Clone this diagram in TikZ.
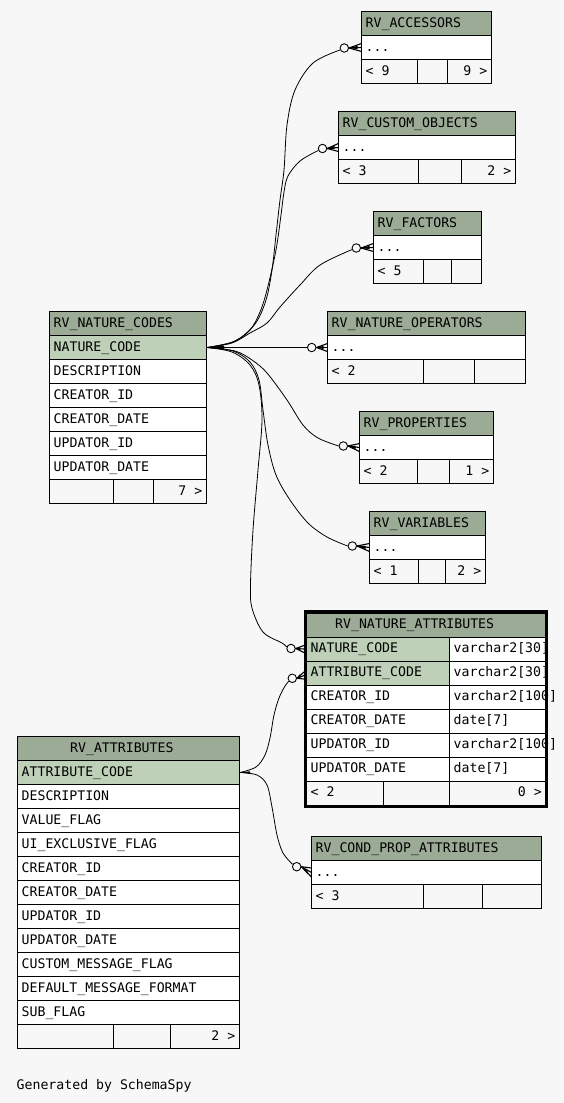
\documentclass[tikz,border=0pt]{standalone}
\usepackage{fontspec}
\setmonofont{DejaVu Sans Mono}
\definecolor{bgcol}{HTML}{F7F7F7}
\definecolor{hdrcol}{HTML}{9BAB96}
\definecolor{pkcol}{HTML}{BED1B8}
\newcommand\tabfont{\ttfamily\fontsize{13.2}{15}\selectfont}
\newcommand\Row[5]{% style, x1, x2, ytop, name, text
  \draw[#1] (#2,#4) rectangle (#3,#4+24);
  \node[txt] (#5) at (#2+4,#4+15.5) }
\newcommand\RowT[8]{% style, x1, xm, x2, ytop, name, text, type
  \draw[#1] (#2,#5) rectangle (#3,#5+24);
  \draw[plain] (#3,#5) rectangle (#4,#5+24);
  \node[txt] (#6) at (#2+4,#5+15.5) {#7};
  \node[txt] (#6t) at (#3+4,#5+15.5) {#8};}
\newcommand\Foot[8]{% x1, d1, d2, x2, ytop, name, lefttext, righttext
  \draw[foot] (#1,#5) rectangle (#2,#5+24);
  \draw[foot] (#2,#5) rectangle (#3,#5+24);
  \draw[foot] (#3,#5) rectangle (#4,#5+24);
  \node[txt] (#6l) at (#1+4,#5+15.5) {#7};
  \node[txtr] (#6r) at (#4-4,#5+15.5) {#8};}
\newcommand\Crow[3]{% ring node, table point, spread
  \draw[crowline] (#1.east) -- ([yshift=#3pt]#2);
  \draw[crowline] (#1.east) -- (#2);
  \draw[crowline] (#1.east) -- ([yshift=-#3pt]#2);
  \fill (#1.east) -- ([yshift=1.6pt,xshift=-4pt]#2) -- ([yshift=-1.6pt,xshift=-4pt]#2) -- cycle;}
\begin{document}
\begin{tikzpicture}[x=1pt,y=-1pt,
  hdr/.style={draw=black,line width=1pt,fill=hdrcol},
  pk/.style={draw=black,line width=1pt,fill=pkcol},
  plain/.style={draw=black,line width=1pt,fill=white},
  foot/.style={draw=black,line width=1pt,fill=bgcol},
  txt/.style={anchor=base west,inner sep=0pt,font=\tabfont},
  txtr/.style={anchor=base east,inner sep=0pt,font=\tabfont},
  rel/.style={draw=black,line width=0.8pt},
  crowline/.style={draw=black,line width=1.1pt},
  ring/.style={circle,draw=black,line width=0.9pt,fill=bgcol,minimum size=8.5pt,inner sep=0pt}]
\fill[bgcol] (0,0) rectangle (564,1103);
\useasboundingbox (0,0) rectangle (564,1103);

% anchor points
\coordinate (pnc) at (207,347.5);
\coordinate (pat) at (240,772.5);
\node[ring] (acco) at (344.3,48) {};
\node[ring] (cuso) at (322.5,148.5) {};
\node[ring] (faco) at (356.3,248) {};
\node[ring] (opeo) at (311.7,347.5) {};
\node[ring] (proo) at (343.3,446) {};
\node[ring] (varo) at (352.3,546) {};
\node[ring] (naoa) at (291,648.5) {};
\node[ring] (naob) at (292.3,678.3) {};
\node[ring] (cpao) at (296.7,866.7) {};

% connectors
\draw[rel] plot[smooth,tension=0.55] coordinates {(pnc) (235,341) (255,324) (266,300) (272,270) (276,235) (280,200) (284,170) (287,125) (295,90) (313,63) (acco.205)};
\draw[rel] plot[smooth,tension=0.55] coordinates {(pnc) (233,342) (250,330) (260,312) (267,290) (276,250) (281,215) (284,192) (288,176) (300,161) (cuso.205)};
\draw[rel] plot[smooth,tension=0.55] coordinates {(pnc) (232,343) (250,333) (267,323) (280,307) (300,285) (320,265) (faco.200)};
\draw[rel] (pnc) -- (opeo.west);
\draw[rel] plot[smooth,tension=0.55] coordinates {(pnc) (235,351) (252,360) (267,373) (287,400) (303,425) (318,438) (proo.west)};
\draw[rel] plot[smooth,tension=0.55] coordinates {(pnc) (233,351) (250,362) (259,380) (263,410) (268,445) (276,475) (290,500) (308,523) (327,537) (varo.west)};
\draw[rel] plot[smooth,tension=0.55] coordinates {(pnc) (232,352) (250,365) (259,385) (262,420) (258,470) (253,530) (250.5,585) (252,608) (263,632) (282,643) (naoa.160)};
\draw[rel] plot[smooth,tension=0.55] coordinates {(pat) (256,767) (265,755) (270,738) (274,715) (279,698) (285,686) (naob.220)};
\draw[rel] plot[smooth,tension=0.55] coordinates {(pat) (257,775) (267,785) (272,807) (277,835) (283,853) (cpao.150)};
\fill (pnc) -- ++(17,-2) -- ++(0,4) -- cycle;
\fill (pat) -- ++(10,-1.2) -- ++(0,2.4) -- cycle;

% RV_ACCESSORS
\Row{hdr}{361.5}{491.5}{11.5}{acch}{RV\_ACCESSORS};
\Row{plain}{361.5}{491.5}{35.5}{accr}{...};
\Foot{361.5}{417.5}{447.5}{491.5}{59.5}{accf}{< 9}{9 >}
\coordinate (accin) at (361.5,47.5);
% RV_CUSTOM_OBJECTS
\Row{hdr}{338.5}{515.5}{111.5}{cush}{RV\_CUSTOM\_OBJECTS};
\Row{plain}{338.5}{515.5}{135.5}{cusr}{...};
\Foot{338.5}{418.5}{461.5}{515.5}{159.5}{cusf}{< 3}{2 >}
\coordinate (cusin) at (338.5,147.5);
% RV_FACTORS
\Row{hdr}{373.5}{481.5}{211.5}{fach}{RV\_FACTORS};
\Row{plain}{373.5}{481.5}{235.5}{facr}{...};
\Foot{373.5}{423.5}{451.5}{481.5}{259.5}{facf}{< 5}{}
\coordinate (facin) at (373.5,247.5);
% RV_NATURE_OPERATORS
\Row{hdr}{327.5}{525.5}{311.5}{opeh}{RV\_NATURE\_OPERATORS};
\Row{plain}{327.5}{525.5}{335.5}{oper}{...};
\Foot{327.5}{423.5}{474.5}{525.5}{359.5}{opef}{< 2}{}
\coordinate (opein) at (327.5,347.5);
% RV_PROPERTIES
\Row{hdr}{359.5}{493.5}{411.5}{proh}{RV\_PROPERTIES};
\Row{plain}{359.5}{493.5}{435.5}{pror}{...};
\Foot{359.5}{417.5}{449.5}{493.5}{459.5}{prof}{< 2}{1 >}
\coordinate (proin) at (359.5,447.5);
% RV_VARIABLES
\Row{hdr}{369.5}{485.5}{511.5}{varh}{RV\_VARIABLES};
\Row{plain}{369.5}{485.5}{535.5}{varr}{...};
\Foot{369.5}{418.5}{445.5}{485.5}{559.5}{varf}{< 1}{2 >}
\coordinate (varin) at (369.5,547.5);

% RV_NATURE_CODES
\Row{hdr}{49.5}{206.5}{311.5}{nch}{RV\_NATURE\_CODES};
\Row{pk}{49.5}{206.5}{335.5}{nca}{NATURE\_CODE};
\Row{plain}{49.5}{206.5}{359.5}{ncb}{DESCRIPTION};
\Row{plain}{49.5}{206.5}{383.5}{ncc}{CREATOR\_ID};
\Row{plain}{49.5}{206.5}{407.5}{ncd}{CREATOR\_DATE};
\Row{plain}{49.5}{206.5}{431.5}{nce}{UPDATOR\_ID};
\Row{plain}{49.5}{206.5}{455.5}{ncf}{UPDATOR\_DATE};
\Foot{49.5}{113.5}{153.5}{206.5}{479.5}{ncg}{}{7 >}

% RV_NATURE_ATTRIBUTES
\draw[hdr] (306.5,613.3) rectangle (546,637.3);
\node[txt] (nah) at (335,628.8) {RV\_NATURE\_ATTRIBUTES};
\RowT{pk}{306.5}{449.5}{546}{637.3}{naa}{NATURE\_CODE}{varchar2[30]}
\RowT{pk}{306.5}{449.5}{546}{661.3}{nab}{ATTRIBUTE\_CODE}{varchar2[30]}
\RowT{plain}{306.5}{449.5}{546}{685.3}{nac}{CREATOR\_ID}{varchar2[100]}
\RowT{plain}{306.5}{449.5}{546}{709.3}{nad}{CREATOR\_DATE}{date[7]}
\RowT{plain}{306.5}{449.5}{546}{733.3}{nae}{UPDATOR\_ID}{varchar2[100]}
\RowT{plain}{306.5}{449.5}{546}{757.3}{naf}{UPDATOR\_DATE}{date[7]}
\Foot{306.5}{383.5}{449.5}{546}{781.3}{nag}{< 2}{0 >}
\draw[line width=3.3pt] (305.7,611.7) rectangle (546.7,806.7);
\coordinate (naina) at (304,649);
\coordinate (nainb) at (304,675.5);

% RV_ATTRIBUTES
\draw[hdr] (17.5,736.5) rectangle (239.5,760.5);
\node[txt] (ath) at (70,752) {RV\_ATTRIBUTES};
\Row{pk}{17.5}{239.5}{760.5}{ata}{ATTRIBUTE\_CODE};
\Row{plain}{17.5}{239.5}{784.5}{atb}{DESCRIPTION};
\Row{plain}{17.5}{239.5}{808.5}{atc}{VALUE\_FLAG};
\Row{plain}{17.5}{239.5}{832.5}{atd}{UI\_EXCLUSIVE\_FLAG};
\Row{plain}{17.5}{239.5}{856.5}{ate}{CREATOR\_ID};
\Row{plain}{17.5}{239.5}{880.5}{atf}{CREATOR\_DATE};
\Row{plain}{17.5}{239.5}{904.5}{atg}{UPDATOR\_ID};
\Row{plain}{17.5}{239.5}{928.5}{ath2}{UPDATOR\_DATE};
\Row{plain}{17.5}{239.5}{952.5}{ati}{CUSTOM\_MESSAGE\_FLAG};
\Row{plain}{17.5}{239.5}{976.5}{atj}{DEFAULT\_MESSAGE\_FORMAT};
\Row{plain}{17.5}{239.5}{1000.5}{atk}{SUB\_FLAG};
\Foot{17.5}{113.5}{170.5}{239.5}{1024.5}{atl}{}{2 >}

% RV_COND_PROP_ATTRIBUTES
\Row{hdr}{311.5}{541.5}{836.5}{cph}{RV\_COND\_PROP\_ATTRIBUTES};
\Row{plain}{311.5}{541.5}{860.5}{cpr}{...};
\Foot{311.5}{423.5}{482.5}{541.5}{884.5}{cpf}{< 3}{}
\coordinate (cpin) at (311.5,872.5);

% crow's feet
\Crow{acco}{accin}{4}
\Crow{cuso}{cusin}{4}
\Crow{faco}{facin}{4}
\Crow{opeo}{opein}{4}
\Crow{proo}{proin}{4}
\Crow{varo}{varin}{4}
\Crow{naoa}{naina}{3.5}
\Crow{naob}{nainb}{3.5}
\Crow{cpao}{cpin}{4.5}

\node[txt] (gen) at (16.5,1089) {Generated by SchemaSpy};
\end{tikzpicture}
\end{document}
